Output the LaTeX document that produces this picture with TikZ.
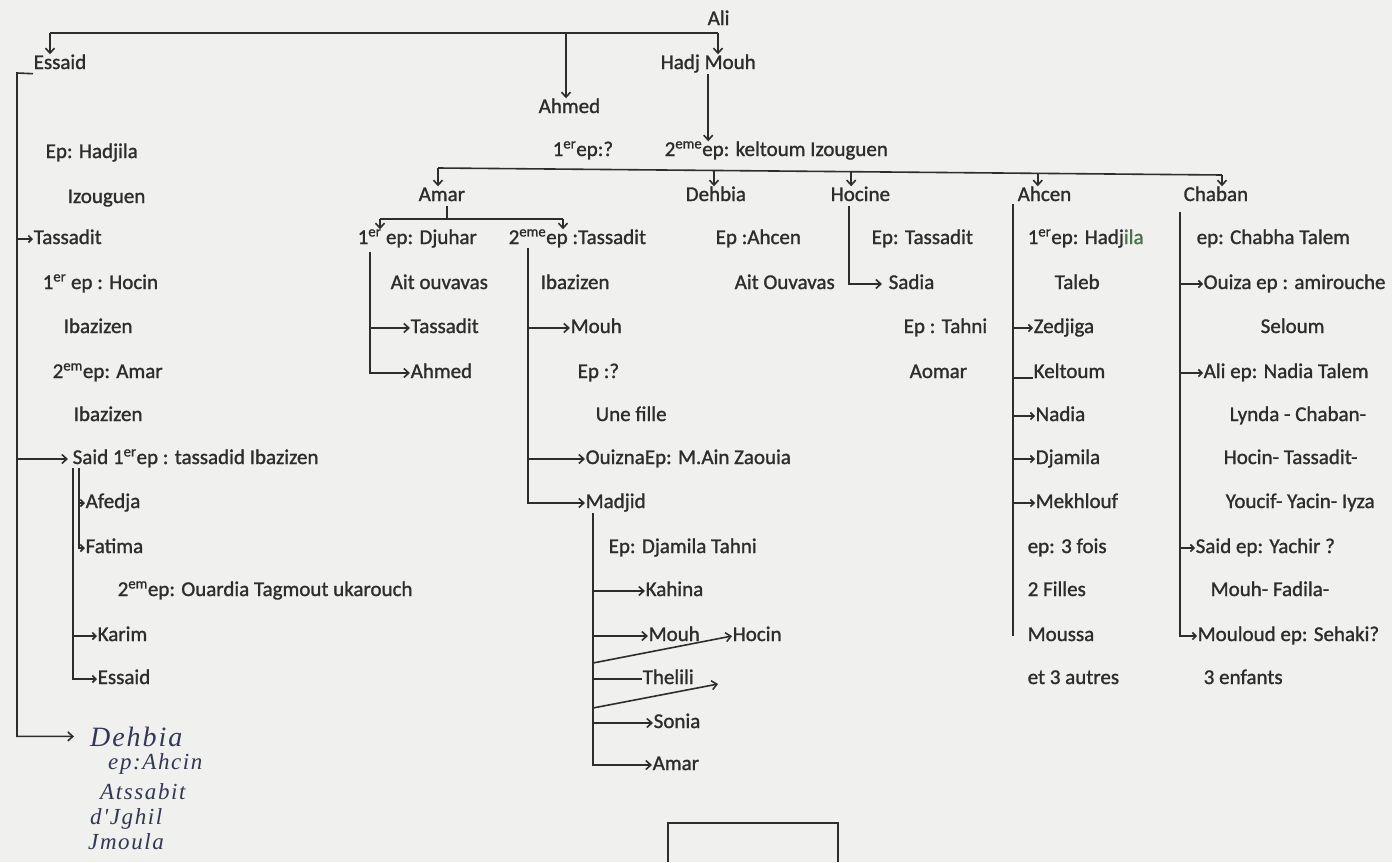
\documentclass[tikz,border=0pt]{standalone}
\usepackage{fontspec}
\setmainfont{Carlito}[RawFeature={embolden=1.2}]
\newfontfamily\handfont{Liberation Serif}[LetterSpace=7]
\usetikzlibrary{arrows.meta,calc}
\definecolor{paper}{RGB}{240,240,238}
\definecolor{ink}{RGB}{45,45,45}
\definecolor{pen}{RGB}{50,55,85}
\definecolor{greenink}{RGB}{70,115,75}
\begin{document}
\begin{tikzpicture}[x=1pt,y=-1pt,
  lbl/.style={anchor=base west,inner sep=0.5pt,text height=14pt,text depth=4pt,text=ink,
    font=\fontsize{21}{25}\selectfont},
  hand/.style={anchor=base west,inner sep=0pt,text=pen,font=\handfont\itshape\fontsize{23}{25}\selectfont},
  link/.style={draw=ink,line width=1.6pt},
  arr/.style={link,-{Straight Barb[length=5pt,width=9pt]}},
  tick/.style={link,-{Straight Barb[length=3.5pt,width=7pt]}}]

\path[use as bounding box,fill=paper] (0,0) rectangle (1392,862);

% ---------- generation 1 and 2 ----------
\node[lbl] (ali)    at (707,25)  {Ali};
\node[lbl] (essaid) at (33,69)   {Essaid};
\node[lbl] (hadj)   at (660,69)  {Hadj Mouh};
\node[lbl] (ahmed)  at (538,113) {Ahmed};
\node[lbl] (ep1)    at (552,156) {1\textsuperscript{er}ep:?};
\node[lbl] (ep2)    at (664,156) {2\textsuperscript{eme}ep: keltoum Izouguen};

% ---------- Essaid branch ----------
\node[lbl] (hadjila) at (45,158)  {Ep: Hadjila};
\node[lbl] (izoug)   at (67,203)  {Izouguen};
\node[lbl] (tassL)   at (33,244)  {Tassadit};
\node[lbl] (hocin1)  at (42,289)  {1\textsuperscript{er} ep : Hocin};
\node[lbl] (ibazA)   at (63,333)  {Ibazizen};
\node[lbl] (amar2)   at (52,378)  {2\textsuperscript{em}ep: Amar};
\node[lbl] (ibazB)   at (73,421)  {Ibazizen};
\node[lbl] (said)    at (72,464)  {Said 1\textsuperscript{er}ep : tassadid Ibazizen};
\node[lbl] (afedja)  at (85,508)  {Afedja};
\node[lbl] (fatima)  at (85,553)  {Fatima};
\node[lbl] (ouardia) at (117,596) {2\textsuperscript{em}ep: Ouardia Tagmout ukarouch};
\node[lbl] (karim)   at (97,641)  {Karim};
\node[lbl] (essaidK) at (97,684)  {Essaid};

\node[hand,font=\handfont\itshape\fontsize{28}{30}\selectfont] (dehbiaH) at (90,746) {Dehbia};
\node[hand] (ahcinH)  at (108,769) {ep:Ahcin};
\node[hand] (atssH)   at (100,799) {Atssabit};
\node[hand] (jghilH)  at (90,824) {d'Jghil};
\node[hand] (jmoulaH) at (88,849) {Jmoula};

% ---------- children of Hadj Mouh ----------
\node[lbl] (amar)   at (418,201)  {Amar};
\node[lbl] (dehbia) at (685,201)  {Dehbia};
\node[lbl] (hocine) at (830,201)  {Hocine};
\node[lbl] (ahcen)  at (1017,201) {Ahcen};
\node[lbl] (chaban) at (1183,201) {Chaban};

% Amar
\node[lbl] (djuhar) at (357,244) {1\textsuperscript{er} ep: Djuhar};
\node[lbl] (tass2)  at (508,244) {2\textsuperscript{eme}ep :Tassadit};
\node[lbl] (aitouv) at (390,289) {Ait ouvavas};
\node[lbl] (tassD)  at (410,333) {Tassadit};
\node[lbl] (ahmedD) at (410,378) {Ahmed};
\node[lbl] (ibazT)  at (540,289) {Ibazizen};
\node[lbl] (mouhA)  at (570,333) {Mouh};
\node[lbl] (epq)    at (577,378) {Ep :?};
\node[lbl] (fille)  at (595,421) {Une fille};
\node[lbl] (ouizna) at (585,464) {OuiznaEp: M.Ain Zaouia};
\node[lbl] (madjid) at (585,508) {Madjid};
\node[lbl] (djamT)  at (608,553) {Ep: Djamila Tahni};
\node[lbl] (kahina) at (645,596) {Kahina};
\node[lbl] (mouhM)  at (648,641) {Mouh};
\node[lbl] (hocinM) at (732,641) {Hocin};
\node[lbl] (thelili) at (642,684) {Thelili};
\node[lbl] (sonia)  at (653,728) {Sonia};
\node[lbl] (amarM)  at (652,770) {Amar};

% Dehbia
\node[lbl] (dehEp)  at (715,244) {Ep :Ahcen};
\node[lbl] (dehAit) at (734,289) {Ait Ouvavas};

% Hocine
\node[lbl] (hocEp)  at (871,244) {Ep: Tassadit};
\node[lbl] (sadia)  at (888,289) {Sadia};
\node[lbl] (tahni)  at (903,333) {Ep : Tahni};
\node[lbl] (aomar)  at (909,378) {Aomar};

% Ahcen
\node[lbl] (ahcEp)    at (1027,244) {1\textsuperscript{er}ep: Hadj\textcolor{greenink}{ila}};
\node[lbl] (taleb)    at (1054,289) {Taleb};
\node[lbl] (zedjiga)  at (1033,333) {Zedjiga};
\node[lbl] (keltoum)  at (1033,378) {Keltoum};
\node[lbl] (nadia)    at (1035,421) {Nadia};
\node[lbl] (djamila)  at (1035,464) {Djamila};
\node[lbl] (mekhlouf) at (1035,508) {Mekhlouf};
\node[lbl] (fois)     at (1027,553) {ep: 3 fois};
\node[lbl] (filles)   at (1027,596) {2 Filles};
\node[lbl] (moussa)   at (1027,641) {Moussa};
\node[lbl] (autres)   at (1027,684) {et 3 autres};

% Chaban
\node[lbl] (chabEp)  at (1196,244) {ep: Chabha Talem};
\node[lbl] (ouiza)   at (1203,289) {Ouiza ep : amirouche};
\node[lbl] (seloum)  at (1260,333) {Seloum};
\node[lbl] (aliC)    at (1203,378) {Ali ep: Nadia Talem};
\node[lbl] (lynda)   at (1229,421) {Lynda - Chaban-};
\node[lbl] (hocinT)  at (1223,464) {Hocin- Tassadit-};
\node[lbl] (youcif)  at (1225,508) {Youcif- Yacin- Iyza};
\node[lbl] (saidC)   at (1195,553) {Said ep: Yachir ?};
\node[lbl] (fadila)  at (1210,596) {Mouh- Fadila-};
\node[lbl] (mouloud) at (1197,641) {Mouloud ep: Sehaki?};
\node[lbl] (enfants) at (1203,684) {3 enfants};

% ---------- connectors ----------
% Ali's children
\coordinate (topL) at (50,33);
\coordinate (topM) at (566,33);
\coordinate (topR) at (718,33);
\draw[link] (topL) -- (topR);
\draw[arr] (topL) -- (topL |- essaid.north);
\draw[arr] (topM) -- (topM |- ahmed.north);
\draw[arr] (topR) -- (topR |- hadj.north);

% Essaid's line
\coordinate (esC) at (17,73);
\draw[arr] (essaid.south west) -- (esC) -- (esC |- dehbiaH.west) -- ($(dehbiaH.west)+(-16,0)$);
\draw[tick] (esC |- tassL.west) -- (tassL.west);
\draw[arr] (esC |- said.west) -- ($(said.west)+(-4,0)$);

% Said's children
\coordinate (sdO) at (73,468);
\coordinate (sdI) at (79,468);
\draw[tick] (sdO) |- (essaidK.west);
\draw[tick] (sdO |- karim.west) -- (karim.west);
\draw[tick] (sdI) |- (fatima.west);
\draw[tick] (sdI |- afedja.west) -- (afedja.west);

% Hadj Mouh and his children
\draw[arr] (hadj.south) -- (hadj.south |- ep2.north);
\coordinate (kbL) at (438,168);
\coordinate (kbR) at (1222,175);
\draw[link] (kbL) -- (kbR);
\draw[arr] (kbL) -- (kbL |- amar.north);
\coordinate (kbD) at ($(kbL)!0.352!(kbR)$);
\coordinate (kbH) at ($(kbL)!0.527!(kbR)$);
\coordinate (kbA) at ($(kbL)!0.765!(kbR)$);
\draw[arr] (kbD) -- (kbD |- dehbia.north);
\draw[arr] (kbH) -- (kbH |- hocine.north);
\draw[arr] (kbA) -- (kbA |- ahcen.north);
\draw[arr] (kbR) -- (kbR |- chaban.north);

% Amar's two wives
\coordinate (amJ) at (447,219);
\coordinate (amL) at (380,219);
\coordinate (amR) at (563,219);
\draw[link] (amJ |- amar.south) -- (amJ);
\draw[link] (amL) -- (amR);
\draw[arr] (amL) -- (amL |- djuhar.north);
\draw[arr] (amR) -- (amR |- tass2.north);

\coordinate (djS) at (370,252);
\draw[arr] (djS) |- (ahmedD.west);
\draw[arr] (djS |- tassD.west) -- (tassD.west);

\coordinate (t2S) at (528,248);
\draw[arr] (t2S) |- (madjid.west);
\draw[arr] (t2S |- mouhA.west) -- (mouhA.west);
\draw[arr] (t2S |- ouizna.west) -- (ouizna.west);

% Madjid's children
\coordinate (mjS) at (593,513);
\draw[arr] (mjS) |- (amarM.west);
\draw[arr] (mjS |- kahina.west) -- (kahina.west);
\draw[arr] (mjS |- mouhM.west) -- (mouhM.west);
\draw[link] (mjS |- thelili.west) -- (thelili.west);
\draw[arr] (mjS |- sonia.west) -- (sonia.west);
\coordinate (sl1) at (593,663);
\draw[arr] (sl1) -- (hocinM.west);
\coordinate (sl2) at (593,708);
\coordinate (sl2e) at (718,684);
\draw[arr] (sl2) -- (sl2e);

% Hocine
\coordinate (hcS) at (849,206);
\draw[arr] (hcS) |- ($(sadia.west)+(-6,0)$);

% Ahcen
\coordinate (ahT) at (1013,204);
\coordinate (ahB) at (1013,636);
\draw[link] (ahT) -- (ahB);
\foreach \n in {zedjiga,nadia,djamila,mekhlouf}
  \draw[tick] (ahT |- \n.west) -- (\n.west);
\draw[link] (ahT |- keltoum.base west) -- (keltoum.base west);

% Chaban
\coordinate (chT) at (1180,212);
\draw[tick] (chT) |- (mouloud.west);
\foreach \n in {ouiza,aliC,saidC}
  \draw[tick] (chT |- \n.west) -- (\n.west);

% empty frame at the foot of the sheet
\draw[draw=ink,line width=1.3pt] (668,862) -- (668,823) -- (838,823) -- (838,862);
\end{tikzpicture}
\end{document}
